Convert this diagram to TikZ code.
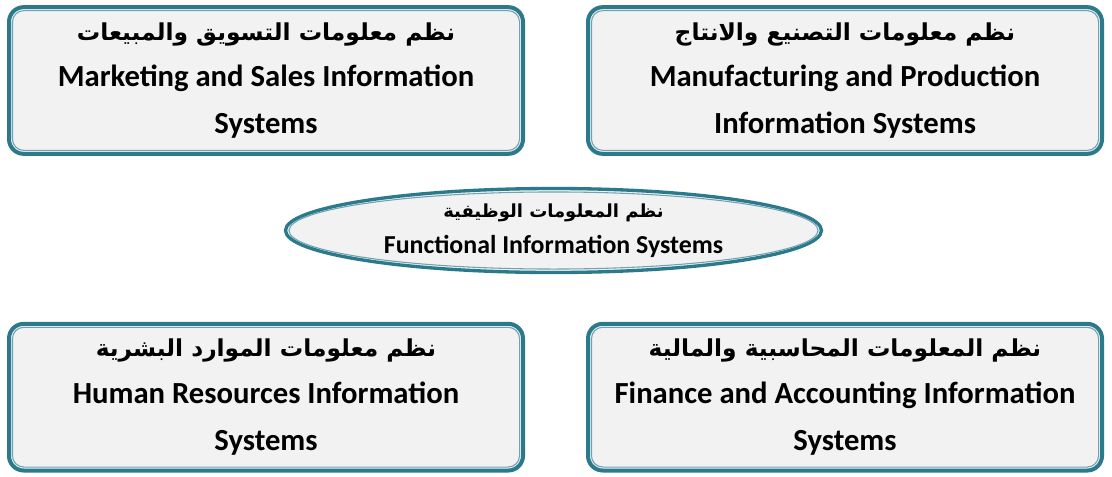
\documentclass[tikz,border=0pt]{standalone}
\usepackage{fontspec}
\setmainfont{Carlito}
\newfontfamily\arabicfont[Script=Arabic]{DejaVu Sans}
\TeXXeTstate=1
\usepackage{xcolor}
\usetikzlibrary{positioning, shapes.geometric}
\definecolor{rimteal}{HTML}{2B7A8C}
\definecolor{rimlight}{HTML}{6FA3B1}
\definecolor{boxgray}{HTML}{F2F2F2}
\newcommand{\artitle}[1]{{\arabicfont\fontsize{17.5}{35}\selectfont\beginR #1\endR}}
\newcommand{\arsmall}[1]{{\arabicfont\fontsize{13.5}{27}\selectfont\beginR #1\endR}}
\tikzset{
  sysbox/.style={fill=boxgray, draw=rimteal, line width=3pt, rounded corners=11pt,
    minimum width=385.5pt, minimum height=110pt, inner sep=0pt, outer sep=0pt,
    align=center, font=\bfseries\fontsize{23}{35}\selectfont},
  funcbox/.style={ellipse, fill=boxgray, draw=rimteal, line width=2.5pt,
    minimum width=402pt, minimum height=63pt, inner xsep=0pt, inner ysep=-6pt,
    outer sep=0pt, align=center, font=\bfseries\fontsize{19.4}{27}\selectfont},
  innerrim/.style={draw=rimlight, line width=0.8pt, rounded corners=8.5pt}
}

\begin{document}
\begin{tikzpicture}[x=0.75pt, y=0.75pt]
    \useasboundingbox (0,0) rectangle (1112,476);
    % centre ellipse
    \node[funcbox] (func) at (553.5,245.5)
      {\arsmall{نظم المعلومات الوظيفية}\\ Functional Information Systems};
    % the four functional areas
    \node[sysbox] (mkt) at (266,395.5)
      {\artitle{نظم معلومات التسويق والمبيعات}\\
       Marketing and Sales Information\\ Systems};
    \node[sysbox, right=48.75pt of mkt] (mfg)
      {\artitle{نظم معلومات التصنيع والانتاج}\\
       Manufacturing and Production\\ Information Systems};
    \node[sysbox, below=127.5pt of mkt] (hr)
      {\artitle{نظم معلومات الموارد البشرية}\\
       Human Resources Information\\ Systems};
    \node[sysbox, below=127.5pt of mfg] (fin)
      {\artitle{نظم المعلومات المحاسبية والمالية}\\
       Finance and Accounting Information\\ Systems};
    % thin inner rims
    \foreach \n in {mkt,mfg,hr,fin}
      \draw[innerrim] ([shift={(2.6pt,-2.6pt)}]\n.north west)
        rectangle ([shift={(-2.6pt,2.6pt)}]\n.south east);
    \draw[innerrim] (func.center) ellipse [x radius=198.4pt, y radius=28.9pt];
  \end{tikzpicture}
\end{document}
